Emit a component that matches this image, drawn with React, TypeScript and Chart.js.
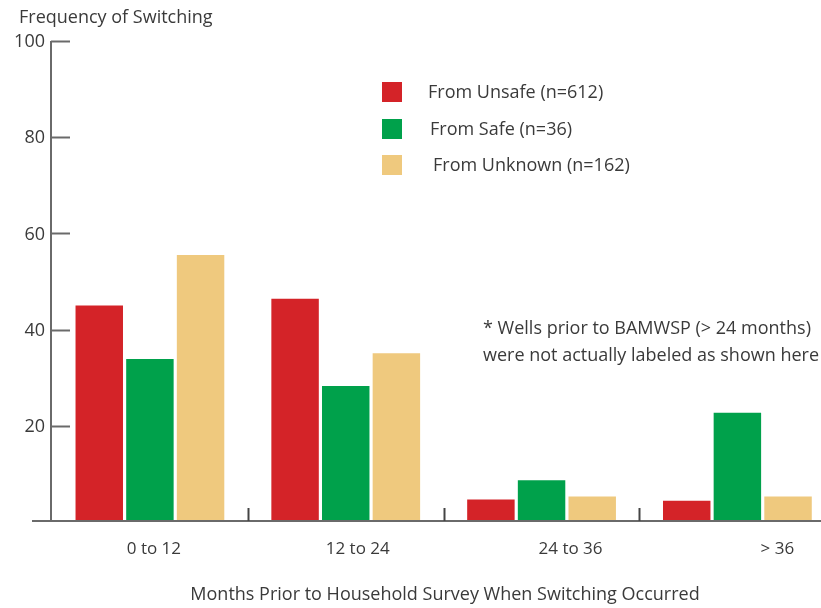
import React, { useEffect, useRef } from "react";
import { Chart, registerables } from "chart.js";

Chart.register(...registerables);

const categories = ["0 to 12", "12 to 24", "24 to 36", "> 36"];
const seriesLabels = ["From Unsafe (n=612)", "From Safe (n=36)", "From Unknown (n=162)"];
const fromUnsafe = [45, 46.4, 4.7, 4.4];
const fromSafe = [33.9, 28.3, 8.7, 22.7];
const fromUnknown = [55.5, 35.1, 5.3, 5.3];
const yTicks = [20, 40, 60, 80, 100];
const yAxisTitle = "Frequency of Switching";
const xAxisTitle = "Months Prior to Household Survey When Switching Occurred";
const noteLines = ["* Wells prior to BAMWSP (> 24 months)", "were not actually labeled as shown here"];

const colors = ["#d42328", "#00a14b", "#efc97e"];
const FONT = "'Open Sans', 'Noto Sans', sans-serif";
const TEXT = "#3a3a3a";
const AXIS = "#6a6a6a";

const decorPlugin = {
  id: "decor",
  afterDatasetsDraw(chart: any) {
    const { ctx, chartArea, scales } = chart;
    const x = scales.x;
    const y = scales.y;
    ctx.save();
    ctx.strokeStyle = AXIS;
    ctx.lineWidth = 2;
    // y axis
    const ax = chartArea.left - 1;
    ctx.beginPath();
    ctx.moveTo(ax, y.getPixelForValue(100));
    ctx.lineTo(ax, y.getPixelForValue(0));
    ctx.stroke();
    // y ticks (inward)
    yTicks.forEach((v) => {
      const py = Math.round(y.getPixelForValue(v)) + 0.5;
      ctx.beginPath();
      ctx.moveTo(ax, py);
      ctx.lineTo(ax + 19, py);
      ctx.stroke();
    });
    // x axis
    const py0 = y.getPixelForValue(0) - 1;
    ctx.beginPath();
    ctx.moveTo(32, py0);
    ctx.lineTo(chart.width, py0);
    ctx.stroke();
    // separators
    ctx.strokeStyle = "#444";
    for (let i = 0; i < categories.length - 1; i++) {
      const px = Math.round(x.getPixelForValue(i + 0.5)) + 0.5;
      ctx.beginPath();
      ctx.moveTo(px, py0);
      ctx.lineTo(px, py0 - 13);
      ctx.stroke();
    }
    ctx.restore();
  },
  afterDraw(chart: any) {
    const { ctx, scales } = chart;
    const x = scales.x;
    const y = scales.y;
    ctx.save();
    ctx.fillStyle = TEXT;
    ctx.textBaseline = "middle";
    ctx.font = `18px ${FONT}`;
    // y tick labels
    ctx.textAlign = "right";
    yTicks.forEach((v) => {
      ctx.fillText(String(v), 45, y.getPixelForValue(v) + 1);
    });
    // title
    ctx.textAlign = "left";
    ctx.fillText(yAxisTitle, 19, 18);
    // x labels (slightly shifted right in the original artwork)
    const labelShift = [4, 12, 29, 40];
    ctx.font = `17px ${FONT}`;
    ctx.textAlign = "center";
    categories.forEach((c, i) => {
      ctx.fillText(c, x.getPixelForValue(i) + labelShift[i], 549);
    });
    ctx.font = `18px ${FONT}`;
    ctx.fillText(xAxisTitle, 445, 595);
    // note
    ctx.textAlign = "left";
    noteLines.forEach((l, i) => ctx.fillText(l, 483, 329 + i * 27));
    // legend
    const legendY = [92, 129, 165];
    const legendTextX = [428, 430, 433];
    seriesLabels.forEach((l, i) => {
      ctx.fillStyle = colors[i];
      ctx.fillRect(382, legendY[i] - 10, 20, 20);
      ctx.fillStyle = TEXT;
      ctx.fillText(l, legendTextX[i], legendY[i] + 1);
    });
    ctx.restore();
  },
};

export default function App() {
  const ref = useRef<HTMLCanvasElement>(null);
  useEffect(() => {
    document.body.style.margin = "0";
    const toPts = (arr: number[]) => arr.map((v, i) => ({ x: i, y: v }));
    const chart = new Chart(ref.current as HTMLCanvasElement, {
      type: "bar",
      data: {
        datasets: [
          { label: seriesLabels[0], data: toPts(fromUnsafe), backgroundColor: colors[0] },
          { label: seriesLabels[1], data: toPts(fromSafe), backgroundColor: colors[1] },
          { label: seriesLabels[2], data: toPts(fromUnknown), backgroundColor: colors[2] },
        ] as any,
      },
      options: {
        animation: false,
        responsive: false,
        events: [],
        layout: { padding: { left: 52, right: 0, top: 41, bottom: 86 } },
        datasets: { bar: { categoryPercentage: 0.776, barPercentage: 0.937 } },
        plugins: { legend: { display: false }, tooltip: { enabled: false } },
        scales: {
          x: {
            type: "linear",
            display: false,
            offset: false,
            grid: { offset: false },
            min: -0.5,
            max: 3.427,
            afterBuildTicks: (scale: any) => {
              scale.ticks = categories.map((_, i) => ({ value: i }));
            },
          },
          y: { display: false, min: 0, max: 100 },
        },
      } as any,
      plugins: [decorPlugin],
    });
    return () => chart.destroy();
  }, []);
  return (
    <div style={{ width: 821, height: 608 }}>
      <canvas ref={ref} width={821} height={608} />
    </div>
  );
}
